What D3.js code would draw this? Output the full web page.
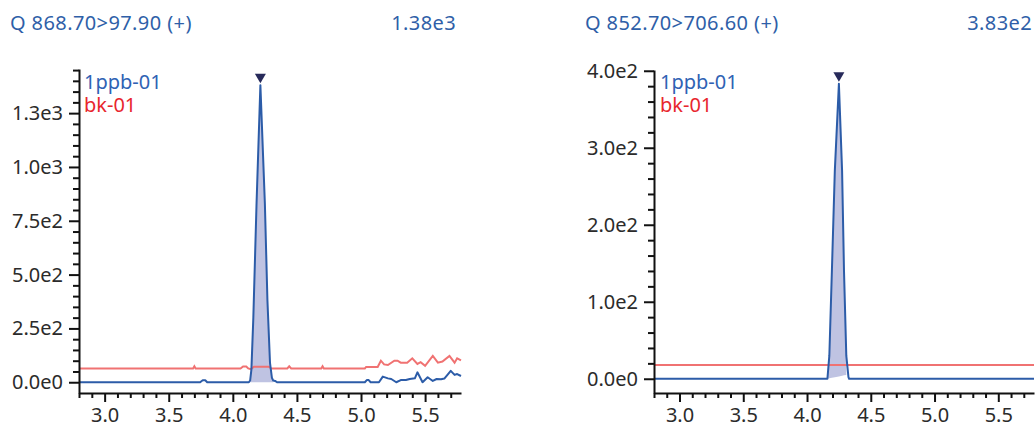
<!DOCTYPE html>
<html>
<head>
<meta charset="utf-8">
<script src="https://cdn.jsdelivr.net/npm/d3@7"></script>
<style>
body { margin: 0; background: #fff; }
svg text { font-family: "Noto Sans", sans-serif; }
</style>
</head>
<body>
<div id="vis"></div>
<script>
// shared axis data
const timeDomain = [2.8, 5.78];
const xMajorTicks = [3.0, 3.5, 4.0, 4.5, 5.0, 5.5];
const sampleNames = ["1ppb-01", "bk-01"];

// transition 1 : Q 868.70>97.90
const q1Title = "Q 868.70>97.90 (+)";
const q1Max = "1.38e3";
const q1YTicks = [0, 250, 500, 750, 1000, 1250];
const q1Sample = [
  [2.80, 0], [3.745, 0], [3.765, 9], [3.785, 9], [3.80, 0],
  [4.125, 0], [4.135, 8], [4.145, 60], [4.16, 300], [4.185, 830], [4.215, 1380],
  [4.25, 830], [4.27, 380], [4.29, 90], [4.305, 20], [4.315, 8], [4.33, 6], [4.345, 0],
  [5.03, 0], [5.045, 10], [5.06, 10], [5.075, 0], [5.14, 0], [5.17, 26], [5.21, 18],
  [5.236, 15], [5.275, 0], [5.31, 10], [5.35, 10], [5.38, 15], [5.42, 18], [5.44, 46],
  [5.48, 0], [5.52, 23], [5.56, 6], [5.59, 15], [5.625, 14], [5.65, 17], [5.70, 53],
  [5.73, 34], [5.75, 38], [5.78, 29]
];
const q1Blank = [
  [2.80, 64], [3.69, 64], [3.70, 74], [3.71, 64], [4.06, 64], [4.08, 73], [4.105, 73],
  [4.12, 64], [4.14, 61], [4.165, 72], [4.28, 72], [4.30, 64], [4.425, 64], [4.44, 74],
  [4.455, 64], [4.69, 64], [4.70, 74], [4.71, 64], [5.03, 64], [5.04, 71], [5.13, 71],
  [5.155, 100], [5.18, 83], [5.21, 80], [5.26, 100], [5.285, 100], [5.31, 91], [5.36, 91],
  [5.40, 111], [5.44, 85], [5.465, 93], [5.50, 76], [5.56, 122], [5.60, 91], [5.635, 96],
  [5.69, 122], [5.73, 91], [5.75, 111], [5.78, 102]
];
const q1Apex = [4.215, 1380];
const q1PeakStart = [4.135, 0];
const q1PeakEnd = [4.315, 0];

// transition 2 : Q 852.70>706.60
const q2Title = "Q 852.70>706.60 (+)";
const q2Max = "3.83e2";
const q2YTicks = [0, 100, 200, 300, 400];
const q2Sample = [
  [2.80, 0], [4.16, 0], [4.175, 30], [4.195, 140], [4.218, 270], [4.25, 383],
  [4.275, 270], [4.29, 140], [4.308, 30], [4.325, 2], [4.33, 0], [5.78, 0]
];
const q2Blank = [[2.80, 18], [5.78, 18]];
const q2Apex = [4.25, 383];
const q2PeakStart = [4.16, 0];
const q2PeakEnd = [4.308, 5];

const blue = "#2c5ca8";
const red = "#f07272";
const fillColor = "#bfc3e2";
const textColor = "#2b2b2b";

const svg = d3.select("#vis").append("svg")
  .attr("width", 1035)
  .attr("height", 425);

const panels = [
  {
    title: q1Title, max: q1Max, yTicks: q1YTicks, sample: q1Sample, blank: q1Blank,
    apex: q1Apex, start: q1PeakStart, end: q1PeakEnd,
    x0: 79, x1: 461, yTop: 69, yBottom: 393, yDomain: [-50, 1455], minorStep: 50,
    titleX: 10, maxX: 456, legendX: 84
  },
  {
    title: q2Title, max: q2Max, yTicks: q2YTicks, sample: q2Sample, blank: q2Blank,
    apex: q2Apex, start: q2PeakStart, end: q2PeakEnd,
    x0: 654, x1: 1034, yTop: 70, yBottom: 393, yDomain: [-18.5, 401], minorStep: 20,
    titleX: 585, maxX: 1032, legendX: 660
  }
];

const yFormat = v => d3.format(".1e")(v).replace("e+", "e");

function drawPanel(p) {
  const x = d3.scaleLinear().domain(timeDomain).range([p.x0, p.x1]);
  const y = d3.scaleLinear().domain(p.yDomain).range([p.yBottom, p.yTop]);
  const g = svg.append("g");

  // integrated peak area
  const base = d3.scaleLinear().domain([p.start[0], p.end[0]]).range([p.start[1], p.end[1]]);
  const inPeak = p.sample.filter(d => d[0] >= p.start[0] - 1e-9 && d[0] <= p.end[0] + 1e-9);
  g.append("path")
    .datum(inPeak)
    .attr("fill", fillColor)
    .attr("d", d3.area().x(d => x(d[0])).y0(d => y(base(d[0]))).y1(d => y(d[1])));

  const line = d3.line().x(d => x(d[0])).y(d => y(d[1]));
  g.append("path").datum(p.blank)
    .attr("fill", "none").attr("stroke", red).attr("stroke-width", 2)
    .attr("d", line);
  g.append("path").datum(p.sample)
    .attr("fill", "none").attr("stroke", blue).attr("stroke-width", 2)
    .attr("stroke-linejoin", "round")
    .attr("d", line);

  // apex marker
  const ax = x(p.apex[0]), ay = y(p.apex[1]) - 2;
  g.append("path")
    .attr("fill", "#272a5a")
    .attr("d", `M${ax},${ay}L${ax - 5.5},${ay - 9.5}L${ax + 5.5},${ay - 9.5}Z`);

  // axes
  const xMinor = d3.range(28, 58).map(d => d / 10).filter(d => !xMajorTicks.some(m => Math.abs(m - d) < 1e-6));
  const yMinor = d3.range(0, p.yDomain[1] + 0.001, p.minorStep).filter(d => !p.yTicks.includes(d));

  g.append("g")
    .attr("transform", `translate(0,${p.yBottom})`)
    .call(d3.axisBottom(x).tickValues(xMajorTicks).tickSize(9).tickSizeOuter(0)
      .tickPadding(6).tickFormat(d3.format(".1f")));
  g.append("g")
    .attr("transform", `translate(0,${p.yBottom})`)
    .call(d3.axisBottom(x).tickValues(xMinor).tickSize(5).tickFormat(""))
    .call(a => a.select(".domain").remove());

  g.append("g")
    .attr("transform", `translate(${p.x0},0)`)
    .call(d3.axisLeft(y).tickValues(p.yTicks).tickSize(10).tickSizeOuter(0)
      .tickPadding(6).tickFormat(yFormat));
  g.append("g")
    .attr("transform", `translate(${p.x0},0)`)
    .call(d3.axisLeft(y).tickValues(yMinor).tickSize(6).tickFormat(""))
    .call(a => a.select(".domain").remove());

  g.selectAll(".domain, .tick line").attr("stroke", "#111").attr("stroke-width", 2);
  g.selectAll(".tick text").attr("fill", textColor).style("font-size", "20px");

  // header
  g.append("text").attr("x", p.titleX).attr("y", 30)
    .attr("fill", "#2f5fa8").style("font-size", "20px").style("letter-spacing", "0.4px")
    .text(p.title);
  g.append("text").attr("x", p.maxX).attr("y", 30).attr("text-anchor", "end")
    .attr("fill", "#2f5fa8").style("font-size", "20px").style("letter-spacing", "0.4px")
    .text(p.max);

  // legend
  g.append("text").attr("x", p.legendX).attr("y", 88.5)
    .attr("fill", "#2f62b4").style("font-size", "20px").text(sampleNames[0]);
  g.append("text").attr("x", p.legendX).attr("y", 112)
    .attr("fill", "#e8262e").style("font-size", "20px").text(sampleNames[1]);
}

panels.forEach(drawPanel);
</script>
</body>
</html>
